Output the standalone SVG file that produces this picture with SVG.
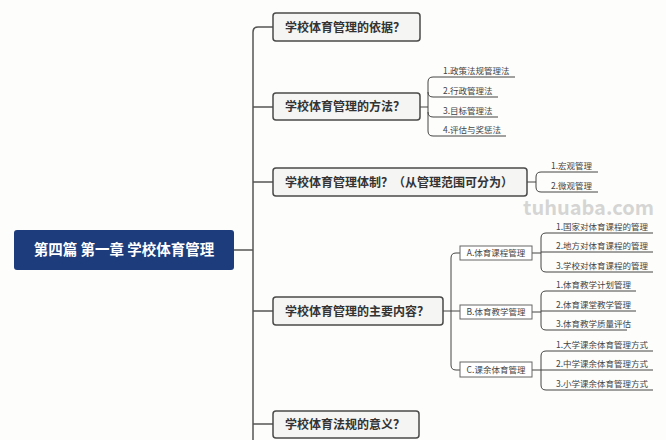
<svg xmlns="http://www.w3.org/2000/svg" width="666" height="440" viewBox="0 0 666 440">
<style>
text{font-family:"Noto Sans CJK SC","Noto Sans",sans-serif;}
.root{fill:#1d3c7c;}
.rt{fill:#ffffff;font-size:14.5px;font-weight:bold;}
.n1{fill:#f5f5f3;stroke:#4a4a4a;stroke-width:1.5;}
.t1{fill:#333;font-size:12px;font-weight:bold;}
.n2{fill:#ffffff;stroke:#666;stroke-width:1;}
.t2{fill:#444;font-size:8.5px;}
.c{fill:none;stroke:#555;stroke-width:1.5;}
.u{fill:none;stroke:#444;stroke-width:1;}
</style>
<rect width="666" height="440" fill="#fdfdfb"/>
<g id="connectors">
<path class="c" d="M273,27 H258 Q253,27 253,32 V440"/>
<path class="c" d="M234,250 H253 M253,107 H273 M253,182 H273 M253,311 H273 M253,424 H273"/>
<path class="u" d="M420,107 H428 M515,77 H433 Q428,77 428,82 V131 Q428,136 433,136 H506 M428,92 Q428,97 433,97 H498 M428,112 Q428,117 433,117 H498"/>
<path class="u" d="M527,182 H536 M598,172 H541 Q536,172 536,177 V187 Q536,192 541,192 H598"/>
<path class="u" d="M443,311 H460 M460,253 H456 Q451,253 451,258 V365 Q451,370 456,370 H460"/>
<path class="u" d="M532,253 H541 M653,233 H546 Q541,233 541,238 V267 Q541,272 546,272 H653 M541,252 H653"/>
<path class="u" d="M532,312 H541 M636,291 H546 Q541,291 541,296 V325 Q541,330 546,330 H627 M541,311 H636"/>
<path class="u" d="M532,370 H541 M653,351 H546 Q541,351 541,356 V385 Q541,390 546,390 H653 M541,370 H653"/>
</g>
<g id="root">
<rect class="root" x="14" y="230" width="220" height="40" rx="3"/>
<text class="rt" x="124" y="255" text-anchor="middle">第四篇 第一章 学校体育管理</text>
</g>
<g id="q1">
<rect class="n1" x="273" y="13" width="147" height="28" rx="3"/>
<text class="t1" x="345" y="31.5" text-anchor="middle">学校体育管理的依据？</text>
</g>
<g id="q2">
<rect class="n1" x="273" y="93" width="147" height="27" rx="3"/>
<text class="t1" x="345" y="111" text-anchor="middle">学校体育管理的方法？</text>
</g>
<g id="q2-items">
<text class="t2" x="443" y="74">1.政策法规管理法</text>
<text class="t2" x="443" y="94">2.行政管理法</text>
<text class="t2" x="443" y="114">3.目标管理法</text>
<text class="t2" x="443" y="133">4.评估与奖惩法</text>
</g>
<g id="q3">
<rect class="n1" x="273" y="168" width="254" height="28" rx="3"/>
<text class="t1" x="399" y="186.5" text-anchor="middle">学校体育管理体制？（从管理范围可分为）</text>
</g>
<g id="q3-items">
<text class="t2" x="551" y="169">1.宏观管理</text>
<text class="t2" x="551" y="189">2.微观管理</text>
</g>
<g id="q4">
<rect class="n1" x="273" y="297" width="170" height="28" rx="3"/>
<text class="t1" x="357" y="315.5" text-anchor="middle">学校体育管理的主要内容？</text>
</g>
<g id="a">
<rect class="n2" x="460" y="246" width="72" height="14"/>
<text class="t2" x="496" y="256" text-anchor="middle">A.体育课程管理</text>
</g>
<g id="a-items">
<text class="t2" x="556" y="230">1.国家对体育课程的管理</text>
<text class="t2" x="556" y="249">2.地方对体育课程的管理</text>
<text class="t2" x="556" y="269">3.学校对体育课程的管理</text>
</g>
<g id="b">
<rect class="n2" x="460" y="305" width="72" height="14"/>
<text class="t2" x="496" y="315" text-anchor="middle">B.体育教学管理</text>
</g>
<g id="b-items">
<text class="t2" x="556" y="288">1.体育教学计划管理</text>
<text class="t2" x="556" y="308">2.体育课堂教学管理</text>
<text class="t2" x="556" y="327">3.体育教学质量评估</text>
</g>
<g id="c">
<rect class="n2" x="460" y="362" width="72" height="15"/>
<text class="t2" x="496" y="372.5" text-anchor="middle">C.课余体育管理</text>
</g>
<g id="c-items">
<text class="t2" x="556" y="348">1.大学课余体育管理方式</text>
<text class="t2" x="556" y="367">2.中学课余体育管理方式</text>
<text class="t2" x="556" y="387">3.小学课余体育管理方式</text>
</g>
<g id="q5">
<rect class="n1" x="273" y="411" width="146" height="27" rx="3"/>
<text class="t1" x="345" y="429" text-anchor="middle">学校体育法规的意义？</text>
</g>
<text x="523" y="215" font-family="'Liberation Sans',sans-serif" font-size="20" font-weight="bold" fill="#c8c8c8" fill-opacity="0.75">tuhuaba.com</text>
</svg>
